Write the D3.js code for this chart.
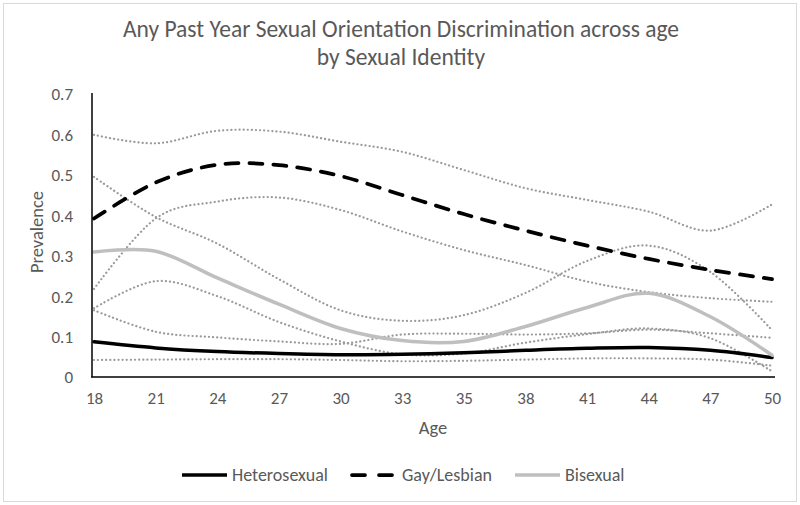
<!DOCTYPE html>
<html>
<head>
<meta charset="utf-8">
<script src="https://cdn.jsdelivr.net/npm/d3@7"></script>
<style>
  html, body { margin: 0; padding: 0; background: #fff; }
  svg { display: block; }
  text { font-family: Carlito, Calibri, Lato, "Open Sans", sans-serif; fill: #595959; }
</style>
</head>
<body>
<svg id="chart" width="800" height="505"></svg>
<script>
// ---- data ----
const ages = ["18","21","24","27","30","33","35","38","41","44","47","50"];
const yTicks = [0, 0.1, 0.2, 0.3, 0.4, 0.5, 0.6, 0.7];

const heterosexual = [0.087, 0.072, 0.063, 0.058, 0.055, 0.056, 0.060, 0.066, 0.071, 0.073, 0.066, 0.048];
const gayLesbian   = [0.392, 0.481, 0.525, 0.524, 0.497, 0.450, 0.403, 0.362, 0.325, 0.292, 0.265, 0.242];
const bisexual     = [0.309, 0.311, 0.245, 0.180, 0.120, 0.090, 0.088, 0.125, 0.172, 0.207, 0.149, 0.054];

// confidence bounds (dotted)
const gayUpper    = [0.599, 0.578, 0.609, 0.607, 0.582, 0.557, 0.512, 0.467, 0.438, 0.409, 0.362, 0.427];
const gayLower    = [0.218, 0.392, 0.434, 0.444, 0.413, 0.360, 0.314, 0.277, 0.236, 0.210, 0.195, 0.186];
const bisUpper    = [0.495, 0.396, 0.330, 0.242, 0.165, 0.139, 0.153, 0.208, 0.287, 0.325, 0.260, 0.116];
const bisLower    = [0.170, 0.237, 0.200, 0.136, 0.088, 0.056, 0.058, 0.085, 0.106, 0.120, 0.096, 0.014];
const heteroUpper = [0.165, 0.112, 0.098, 0.088, 0.082, 0.105, 0.107, 0.105, 0.108, 0.117, 0.108, 0.097];
const heteroLower = [0.042, 0.043, 0.044, 0.044, 0.042, 0.039, 0.040, 0.043, 0.046, 0.046, 0.043, 0.028];

const titleLines = ["Any Past Year Sexual Orientation Discrimination across age", "by Sexual Identity"];
const legendNames = ["Heterosexual", "Gay/Lesbian", "Bisexual"];

// ---- drawing ----
const svg = d3.select("#chart");
const W = 800, H = 505;

svg.append("rect").attr("x", 3.5).attr("y", 3.5).attr("width", W - 7).attr("height", H - 7)
  .attr("fill", "#fff").attr("stroke", "#d9d9d9").attr("stroke-width", 1);

const x = d3.scalePoint().domain(ages).range([94, 772]);
const y = d3.scaleLinear().domain([0, 0.7]).range([377, 94]);

const curve = d3.curveCardinal.tension(0);
const line = d3.line().x((d, i) => x(ages[i])).y(d => y(d)).curve(curve);

// dotted bounds
const dotted = [gayUpper, gayLower, bisUpper, bisLower, heteroUpper, heteroLower];
svg.append("g").selectAll("path").data(dotted).join("path")
  .attr("d", line)
  .attr("fill", "none")
  .attr("stroke", "#9a9a9a")
  .attr("stroke-width", 2.2)
  .attr("stroke-linecap", "round")
  .attr("stroke-dasharray", "0.1,4");

// main series
const series = [
  { name: legendNames[0], values: heterosexual, color: "#000000", dash: null, w: 3.5 },
  { name: legendNames[1], values: gayLesbian, color: "#000000", dash: "13,11", w: 3.75 },
  { name: legendNames[2], values: bisexual, color: "#bfbfbf", dash: null, w: 3.5 }
];
svg.append("g").selectAll("path").data(series).join("path")
  .attr("d", d => line(d.values))
  .attr("fill", "none")
  .attr("stroke", d => d.color)
  .attr("stroke-width", d => d.w)
  .attr("stroke-dasharray", d => d.dash)
  .attr("stroke-linecap", "round");

// axes
const yAxis = d3.axisLeft(y).tickValues(yTicks).tickSize(0).tickPadding(0)
  .tickFormat(d => d === 0 ? "0" : d3.format(".1f")(d));
const gy = svg.append("g").attr("transform", "translate(92,0)").call(yAxis);
gy.select(".domain").remove();
gy.selectAll("text").attr("x", -19).attr("dy", "0.35em").style("font-size", "17px").attr("fill", "#595959");

const xAxis = d3.axisBottom(x).tickSize(0).tickPadding(0);
const gx = svg.append("g").attr("transform", "translate(0,377)").call(xAxis);
gx.select(".domain").remove();
gx.selectAll("text").attr("y", 21).attr("dy", "0.35em").style("font-size", "17px").attr("fill", "#595959");

svg.append("line").attr("x1", 92).attr("x2", 92).attr("y1", 93).attr("y2", 377.5)
  .attr("stroke", "#000").attr("stroke-width", 1.5);
svg.append("line").attr("x1", 91.25).attr("x2", 775).attr("y1", 377).attr("y2", 377)
  .attr("stroke", "#000").attr("stroke-width", 1.5);

// titles
svg.append("g").selectAll("text").data(titleLines).join("text")
  .attr("x", 401).attr("y", (d, i) => 37 + i * 28)
  .attr("text-anchor", "middle").style("font-size", "23.5px").text(d => d);

svg.append("text").attr("x", 433).attr("y", 434).attr("text-anchor", "middle")
  .style("font-size", "18.5px").text("Age");
svg.append("text").attr("transform", "translate(43,232) rotate(-90)").attr("text-anchor", "middle")
  .style("font-size", "18.5px").text("Prevalence");

// legend
const legendX = [182, 352, 515];
const lg = svg.append("g").selectAll("g").data(series).join("g")
  .attr("transform", (d, i) => `translate(${legendX[i]},475)`);
lg.append("line").attr("x1", 0).attr("x2", d => d.dash ? 40 : 45).attr("y1", 0).attr("y2", 0)
  .attr("stroke", d => d.color).attr("stroke-width", d => d.w)
  .attr("stroke-dasharray", d => d.dash ? "13,14" : null)
  .attr("stroke-linecap", d => d.dash ? "round" : "butt");
lg.append("text").attr("x", 50).attr("y", 0).attr("dy", "0.35em")
  .style("font-size", "18px").text(d => d.name);
</script>
</body>
</html>
